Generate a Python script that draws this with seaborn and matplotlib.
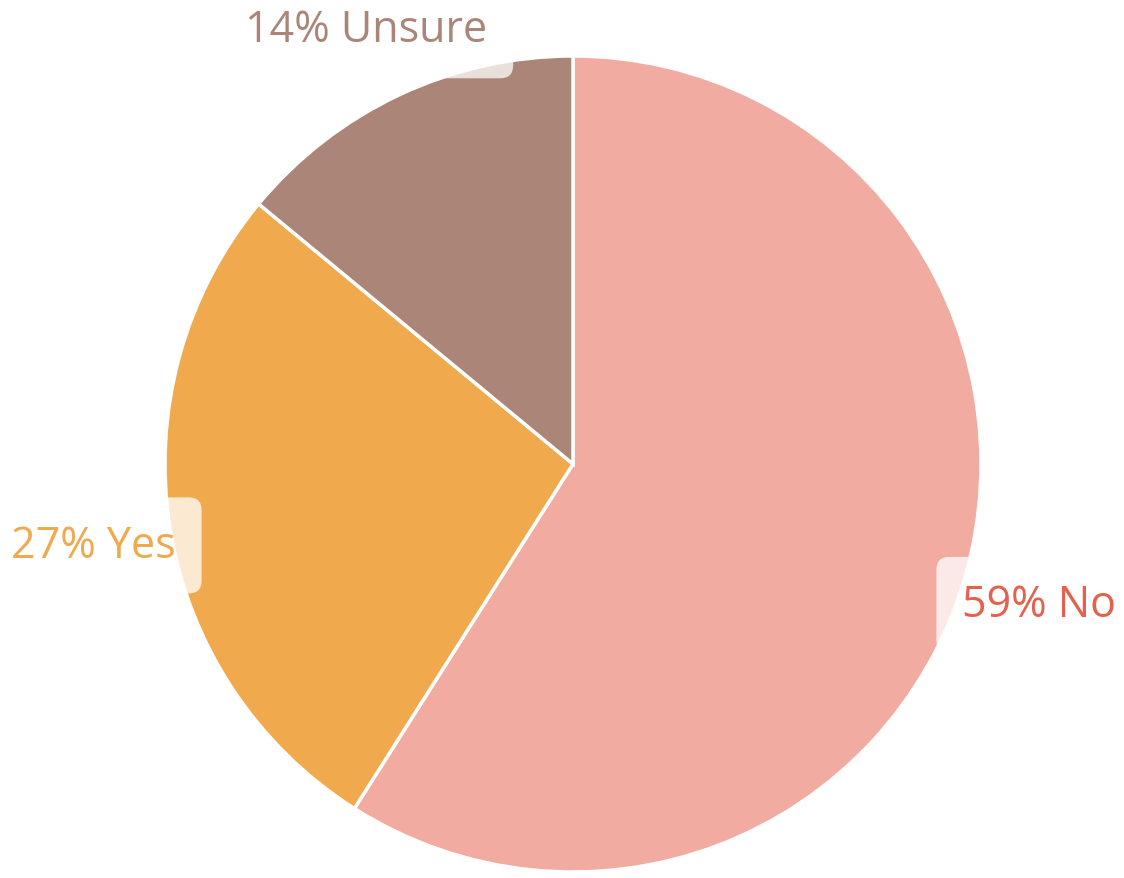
import numpy as np
import matplotlib
matplotlib.use("Agg")
import matplotlib.pyplot as plt
import seaborn as sns

# Survey answers
categories = ["No", "Yes", "Unsure"]
shares = [59, 27, 14]
wedge_colors = ["#F1ABA1", "#F0A94C", "#AB8577"]
label_colors = ["#E5604D", "#F0A94C", "#AB8577"]

sns.set_theme(style="white")
plt.rcParams["font.family"] = ["Open Sans", "DejaVu Sans"]

W, H = 1124, 879
fig = plt.figure(figsize=(W / 100, H / 100), dpi=100)
ax = fig.add_axes([0, 0, 1, 1])

cx, cy, R = 573, 414, 408
wedges, _ = ax.pie(
    shares,
    colors=wedge_colors,
    startangle=90,
    counterclock=False,
    radius=R,
    center=(cx, cy),
    wedgeprops=dict(edgecolor="white", linewidth=2.5),
)

for w, cat, val, col in zip(wedges, categories, shares, label_colors):
    mid = np.deg2rad((w.theta1 + w.theta2) / 2)
    x = cx + 1.19 * R * np.cos(mid)
    y = cy + 1.19 * R * np.sin(mid)
    ax.text(
        x, y, f"{val}% {cat}",
        ha="center", va="center_baseline", fontsize=31, color=col, zorder=5,
        bbox=dict(boxstyle="round,pad=0.6,rounding_size=0.3",
                  facecolor="white", edgecolor="none", alpha=0.75),
    )

ax.set_xlim(0, W)
ax.set_ylim(0, H)
ax.set_aspect("equal")
ax.axis("off")

fig.savefig("out.png", dpi=100)
